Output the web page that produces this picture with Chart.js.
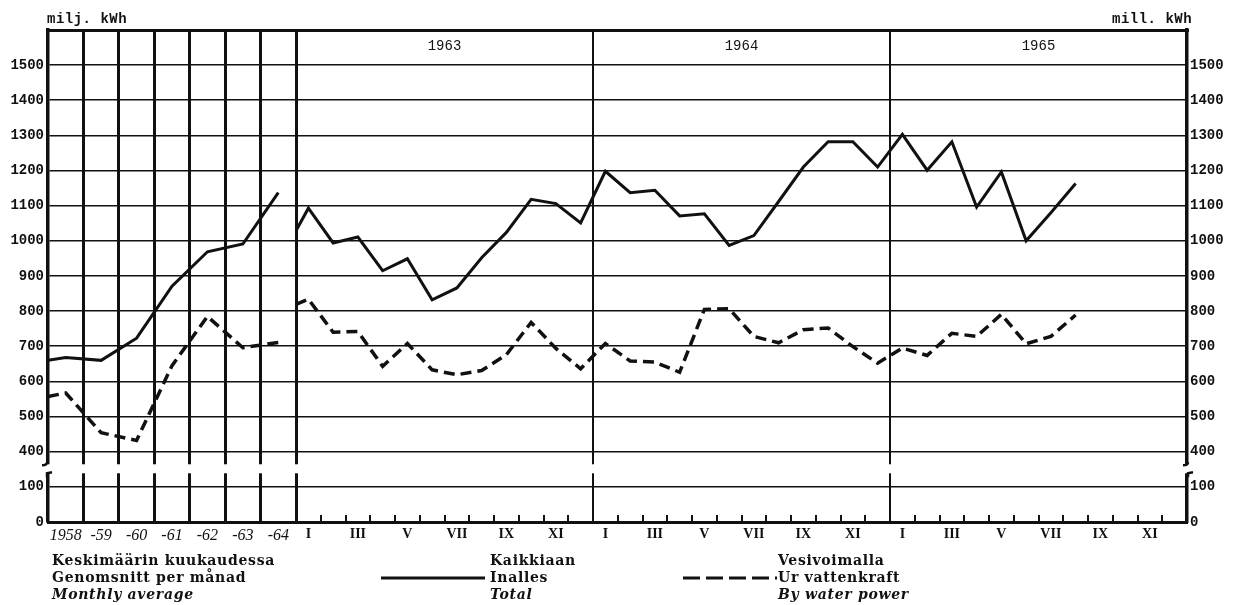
<!DOCTYPE html>
<html>
<head>
<meta charset="utf-8">
<script src="https://cdn.jsdelivr.net/npm/chart.js@4.4.1/dist/chart.umd.min.js"></script>
<style>
  html, body { margin: 0; padding: 0; background: #fff; }
  #wrap { position: relative; width: 1238px; height: 605px; }
  #wrap canvas { position: absolute; left: 0; top: 0; }
  .unit { position: absolute; top: 11px; font: bold 14px "Liberation Mono", monospace; letter-spacing: 0.5px; color: #111; }
  .leg { position: absolute; top: 552px; font: bold 14px "DejaVu Serif", serif; letter-spacing: 0.7px; line-height: 17px; color: #111; white-space: nowrap; }
  .leg i { font-style: italic; }
  svg.keys { position: absolute; left: 0; top: 0; }
</style>
</head>
<body>
<div id="wrap">
  <canvas id="chart"></canvas>
  <div class="unit" style="left:47px">milj. kWh</div>
  <div class="unit" style="left:1112px">mill. kWh</div>
  <div class="leg" style="left:52px">Keskimäärin kuukaudessa<br>Genomsnitt per månad<br><i>Monthly average</i></div>
  <div class="leg" style="left:490px">Kaikkiaan<br>Inalles<br><i>Total</i></div>
  <div class="leg" style="left:778px">Vesivoimalla<br>Ur vattenkraft<br><i>By water power</i></div>
  <svg class="keys" width="1238" height="605">
    <line x1="381" y1="578" x2="485" y2="578" stroke="#111" stroke-width="3"/>
    <line x1="683" y1="578" x2="777" y2="578" stroke="#111" stroke-width="3" stroke-dasharray="17 6"/>
  </svg>
</div>
<script>
// ── Data (mill. kWh) ─────────────────────────────────────────
const years = ["1958", "-59", "-60", "-61", "-62", "-63", "-64"];
const yearlyTotal = [668, 660, 723, 871, 969, 991, 1137];
const yearlyHydro = [567, 454, 432, 645, 785, 696, 711];
// where the yearly lines meet the left axis
const yearlyTotalEdge = 660;
const yearlyHydroEdge = 557;

const monthYears = ["1963", "1964", "1965"];
const monthTicks = ["I", "", "III", "", "V", "", "VII", "", "IX", "", "XI", ""];
const monthlyTotal = [
    1093, 994, 1011, 915, 949, 832, 866, 952, 1024, 1118, 1106, 1051,
    1198, 1137, 1144, 1071, 1077, 987, 1015, 1112, 1210, 1282, 1282, 1210,
    1303, 1201, 1282, 1096, 1196, 1000, 1080, 1163,
];
const monthlyHydro = [
    834, 740, 742, 643, 708, 633, 619, 631, 676, 768, 694, 636,
    708, 658, 655, 626, 805, 807, 728, 710, 747, 752, 699, 652,
    695, 674, 737, 728, 791, 707, 728, 789,
];
// where the monthly lines start at the 1963 divider
const monthlyTotalEdge = 1029;
const monthlyHydroEdge = 819;

// y ticks (axis is broken between 100 and 400)
const yTickLabels = ["0", "100", "400", "500", "600", "700", "800", "900", "1000", "1100", "1200", "1300", "1400", "1500", ""];

// ── Axis helpers ─────────────────────────────────────────────
const BREAK = 200;                        // units cut out of the y axis
const toAxis = (v) => (v >= 300 ? v - BREAK : v);
const yearW = 1.4315;                     // width of one yearly column, in months
const monthStart = years.length * yearW;
const xMax = monthStart + monthYears.length * 12;

const yearX = (i) => (i + 0.5) * yearW;
const monthX = (m) => monthStart + m + 0.5;

function series(edgeX, edgeVal, xs, vals) {
    return [{ x: edgeX, y: toAxis(edgeVal) }].concat(vals.map((v, i) => ({ x: xs(i), y: toAxis(v) })));
}

// label ticks at column centres
const labelPos = [];
const labelText = [];
years.forEach((y, i) => { labelPos.push(yearX(i)); labelText.push(y); });
for (let m = 0; m < monthYears.length * 12; m++) { labelPos.push(monthX(m)); labelText.push(monthTicks[m % 12]); }

// grid lines at column / year boundaries
const gridPos = [];
for (let i = 1; i <= years.length; i++) gridPos.push(i * yearW);
for (let k = 1; k < monthYears.length; k++) gridPos.push(monthStart + k * 12);

const INK = "#111";

// ── Extra drawing: month ticks, year headings, axis break ────
const decor = {
    id: "decor",
    afterDraw(chart) {
        const { ctx, chartArea: a } = chart;
        const xs = chart.scales.x, ys = chart.scales.y;
        ctx.save();
        ctx.strokeStyle = INK;
        ctx.fillStyle = INK;
        // small month ticks on the base line
        ctx.lineWidth = 2;
        for (let m = 1; m < monthYears.length * 12; m++) {
            if (m % 12 === 0) continue;
            const px = Math.round(xs.getPixelForValue(monthStart + m));
            ctx.beginPath();
            ctx.moveTo(px, a.bottom);
            ctx.lineTo(px, a.bottom - 7);
            ctx.stroke();
        }
        // year headings
        ctx.font = "14px 'Liberation Mono', monospace";
        ctx.textAlign = "center";
        ctx.textBaseline = "middle";
        monthYears.forEach((y, k) => {
            ctx.fillText(y, xs.getPixelForValue(monthStart + k * 12 + 6), a.top + 16);
        });
        // axis break
        const yb = ys.getPixelForValue(150);
        ctx.fillStyle = "#fff";
        ctx.fillRect(a.left - 6, yb - 5, a.right - a.left + 12, 9);
        ctx.lineWidth = 2.5;
        [a.left - 1, a.right + 1].forEach((px) => {
            ctx.beginPath();
            ctx.moveTo(px, yb - 7);
            ctx.quadraticCurveTo(px, yb - 4, px - 5, yb - 4);
            ctx.stroke();
            ctx.beginPath();
            ctx.moveTo(px, yb + 8);
            ctx.lineTo(px, yb + 4);
            ctx.lineTo(px + 5, yb + 3);
            ctx.stroke();
        });
        ctx.restore();
    },
};

const lineStyle = (dashed) => ({
    borderColor: INK,
    borderWidth: dashed ? 3.5 : 3,
    borderDash: dashed ? [11, 6] : [],
    pointRadius: 0,
    tension: 0,
    fill: false,
    xAxisID: "x",
    yAxisID: "y",
});

const yTicks = {
    color: INK,
    padding: 4,
    font: { family: "'Liberation Mono', monospace", size: 14, weight: "bold" },
    callback: (v) => yTickLabels[Math.round(v / 100)] ?? "",
};

new Chart(document.getElementById("chart"), {
    type: "line",
    data: {
        datasets: [
            { label: "Total, yearly", data: series(0, yearlyTotalEdge, yearX, yearlyTotal), ...lineStyle(false) },
            { label: "Total, monthly", data: series(monthStart, monthlyTotalEdge, monthX, monthlyTotal), ...lineStyle(false) },
            { label: "Hydro, yearly", data: series(0, yearlyHydroEdge, yearX, yearlyHydro), ...lineStyle(true) },
            { label: "Hydro, monthly", data: series(monthStart, monthlyHydroEdge, monthX, monthlyHydro), ...lineStyle(true) },
        ],
    },
    options: {
        responsive: true,
        maintainAspectRatio: false,
        animation: false,
        layout: { padding: { top: 30, left: 0, right: 0, bottom: 0 } },
        plugins: { legend: { display: false }, tooltip: { enabled: false } },
        scales: {
            x: {
                type: "linear",
                position: "bottom",
                min: 0,
                max: xMax,
                afterBuildTicks: (s) => { s.ticks = labelPos.map((v) => ({ value: v })); },
                afterFit: (s) => { s.height = 83; },
                grid: { display: false, drawTicks: false },
                border: { display: true, width: 3, color: INK },
                ticks: {
                    autoSkip: false,
                    maxRotation: 0,
                    padding: 4,
                    color: INK,
                    callback: (v, i) => labelText[i],
                    font: (c) => (c.index < years.length
                        ? { family: "'Liberation Serif', serif", size: 16, style: "italic" }
                        : { family: "'Liberation Serif', serif", size: 14, weight: "bold" }),
                },
            },
            xg: {
                type: "linear",
                position: "top",
                min: 0,
                max: xMax,
                afterBuildTicks: (s) => { s.ticks = gridPos.map((v) => ({ value: v })); },
                afterFit: (s) => { s.height = 0; },
                grid: {
                    drawTicks: false,
                    color: INK,
                    lineWidth: (c) => (c.tick && c.tick.value <= monthStart + 0.01 ? 3 : 2),
                },
                border: { display: true, width: 3, color: INK },
                ticks: { display: false },
            },
            y: {
                type: "linear",
                position: "left",
                min: 0,
                max: 1400,
                afterFit: (s) => { s.width = 48; },
                grid: {
                    drawTicks: false,
                    color: (c) => (c.tick && c.tick.value >= 1400 ? "rgba(0,0,0,0)" : INK),
                    lineWidth: 1.6,
                },
                border: { display: true, width: 3.5, color: INK },
                ticks: { ...yTicks, stepSize: 100 },
            },
            y2: {
                type: "linear",
                position: "right",
                min: 0,
                max: 1400,
                afterFit: (s) => { s.width = 51; },
                grid: { display: false, drawTicks: false },
                border: { display: true, width: 3.5, color: INK },
                ticks: { ...yTicks, stepSize: 100, padding: 3 },
            },
        },
    },
    plugins: [decor],
});
</script>
</body>
</html>
